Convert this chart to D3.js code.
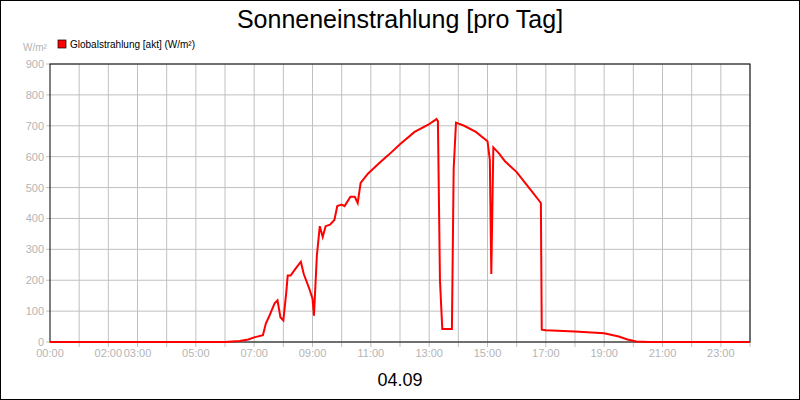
<!DOCTYPE html>
<html><head><meta charset="utf-8">
<script src="https://cdn.jsdelivr.net/npm/d3@7"></script>
<style>body{margin:0;background:#fff;font-family:"Liberation Sans",Arial,sans-serif}</style>
</head><body><svg id="c" width="800" height="400"></svg>
<script>
// time in hours, value in W/m²
var hours = [0,6.0,6.5,6.8,7.0,7.3,7.4,7.5,7.7,7.8,7.9,8.0,8.1,8.15,8.25,8.4,8.6,8.7,8.9,9.0,9.05,9.15,9.25,9.35,9.45,9.6,9.75,9.85,10.0,10.1,10.3,10.45,10.55,10.65,10.9,11.3,11.6,12.0,12.5,13.0,13.1,13.2,13.25,13.3,13.37,13.45,13.6,13.78,13.84,13.92,14.2,14.6,15.0,15.08,15.13,15.2,15.4,15.6,16.0,16.5,16.83,16.86,17.0,18.0,19.0,19.5,19.8,20.1,20.5,24];
var values = [0,0,3,8,15,22,60,80,125,135,80,70,160,215,215,235,260,220,170,140,85,280,375,340,375,380,395,440,445,440,470,470,450,515,545,580,605,640,680,705,712,718,722,715,200,42,42,42,560,710,700,680,650,590,220,630,610,585,550,490,450,40,38,34,28,18,8,2,0,0];
var yTicks = [0,100,200,300,400,500,600,700,800,900];
var xLabels = [[0,"00:00"],[2,"02:00"],[3,"03:00"],[5,"05:00"],[7,"07:00"],[9,"09:00"],[11,"11:00"],[13,"13:00"],[15,"15:00"],[17,"17:00"],[19,"19:00"],[21,"21:00"],[23,"23:00"]];

var data = hours.map(function(h,i){return {h:h, v:values[i]};});

var svg = d3.select("#c");
var m = {l:50, r:750, t:64, b:342};
var x = d3.scaleLinear().domain([0,24]).range([m.l,m.r]);
var y = d3.scaleLinear().domain([0,900]).range([m.b,m.t]);
var grey = "#b4b4b4";

svg.append("rect").attr("x",0.5).attr("y",0.5).attr("width",799).attr("height",399).attr("fill","#fff").attr("stroke","#000");
svg.append("text").attr("x",400).attr("y",28).attr("text-anchor","middle").attr("font-size",25).text("Sonneneinstrahlung [pro Tag]");
svg.append("text").attr("x",400).attr("y",386).attr("text-anchor","middle").attr("font-size",18).text("04.09");

// grid
svg.append("g").selectAll("line").data(d3.range(1,25)).enter().append("line")
  .attr("x1",d=>x(d)).attr("x2",d=>x(d)).attr("y1",m.t).attr("y2",m.b+5).attr("stroke","#c0c0c0");
svg.append("g").selectAll("line").data(yTicks).enter().append("line")
  .attr("x1",m.l-4).attr("x2",m.r).attr("y1",d=>y(d)).attr("y2",d=>y(d)).attr("stroke","#c0c0c0");

svg.append("g").selectAll("text").data(yTicks).enter().append("text")
  .attr("x",m.l-6).attr("y",d=>y(d)+4).attr("text-anchor","end").attr("font-size",11).attr("fill",grey).text(d=>d);
svg.append("g").selectAll("text").data(xLabels).enter().append("text")
  .attr("x",d=>x(d[0])).attr("y",m.b+15).attr("text-anchor","middle").attr("font-size",11).attr("fill",grey).text(d=>d[1]);
svg.append("text").attr("x",23).attr("y",51).attr("font-size",10).attr("fill",grey).text("W/m²");

// legend
svg.append("rect").attr("x",58).attr("y",40).attr("width",8).attr("height",8).attr("fill","#f00").attr("stroke","#000").attr("stroke-width",0.7);
svg.append("text").attr("x",70).attr("y",48).attr("font-size",10).text("Globalstrahlung [akt] (W/m²)");

svg.append("rect").attr("x",m.l).attr("y",m.t).attr("width",m.r-m.l).attr("height",m.b-m.t).attr("fill","none").attr("stroke","#000");

svg.append("path").datum(data).attr("fill","none").attr("stroke","#f00").attr("stroke-width",2)
  .attr("d", d3.line().x(d=>x(d.h)).y(d=>y(d.v)));
</script></body></html>
